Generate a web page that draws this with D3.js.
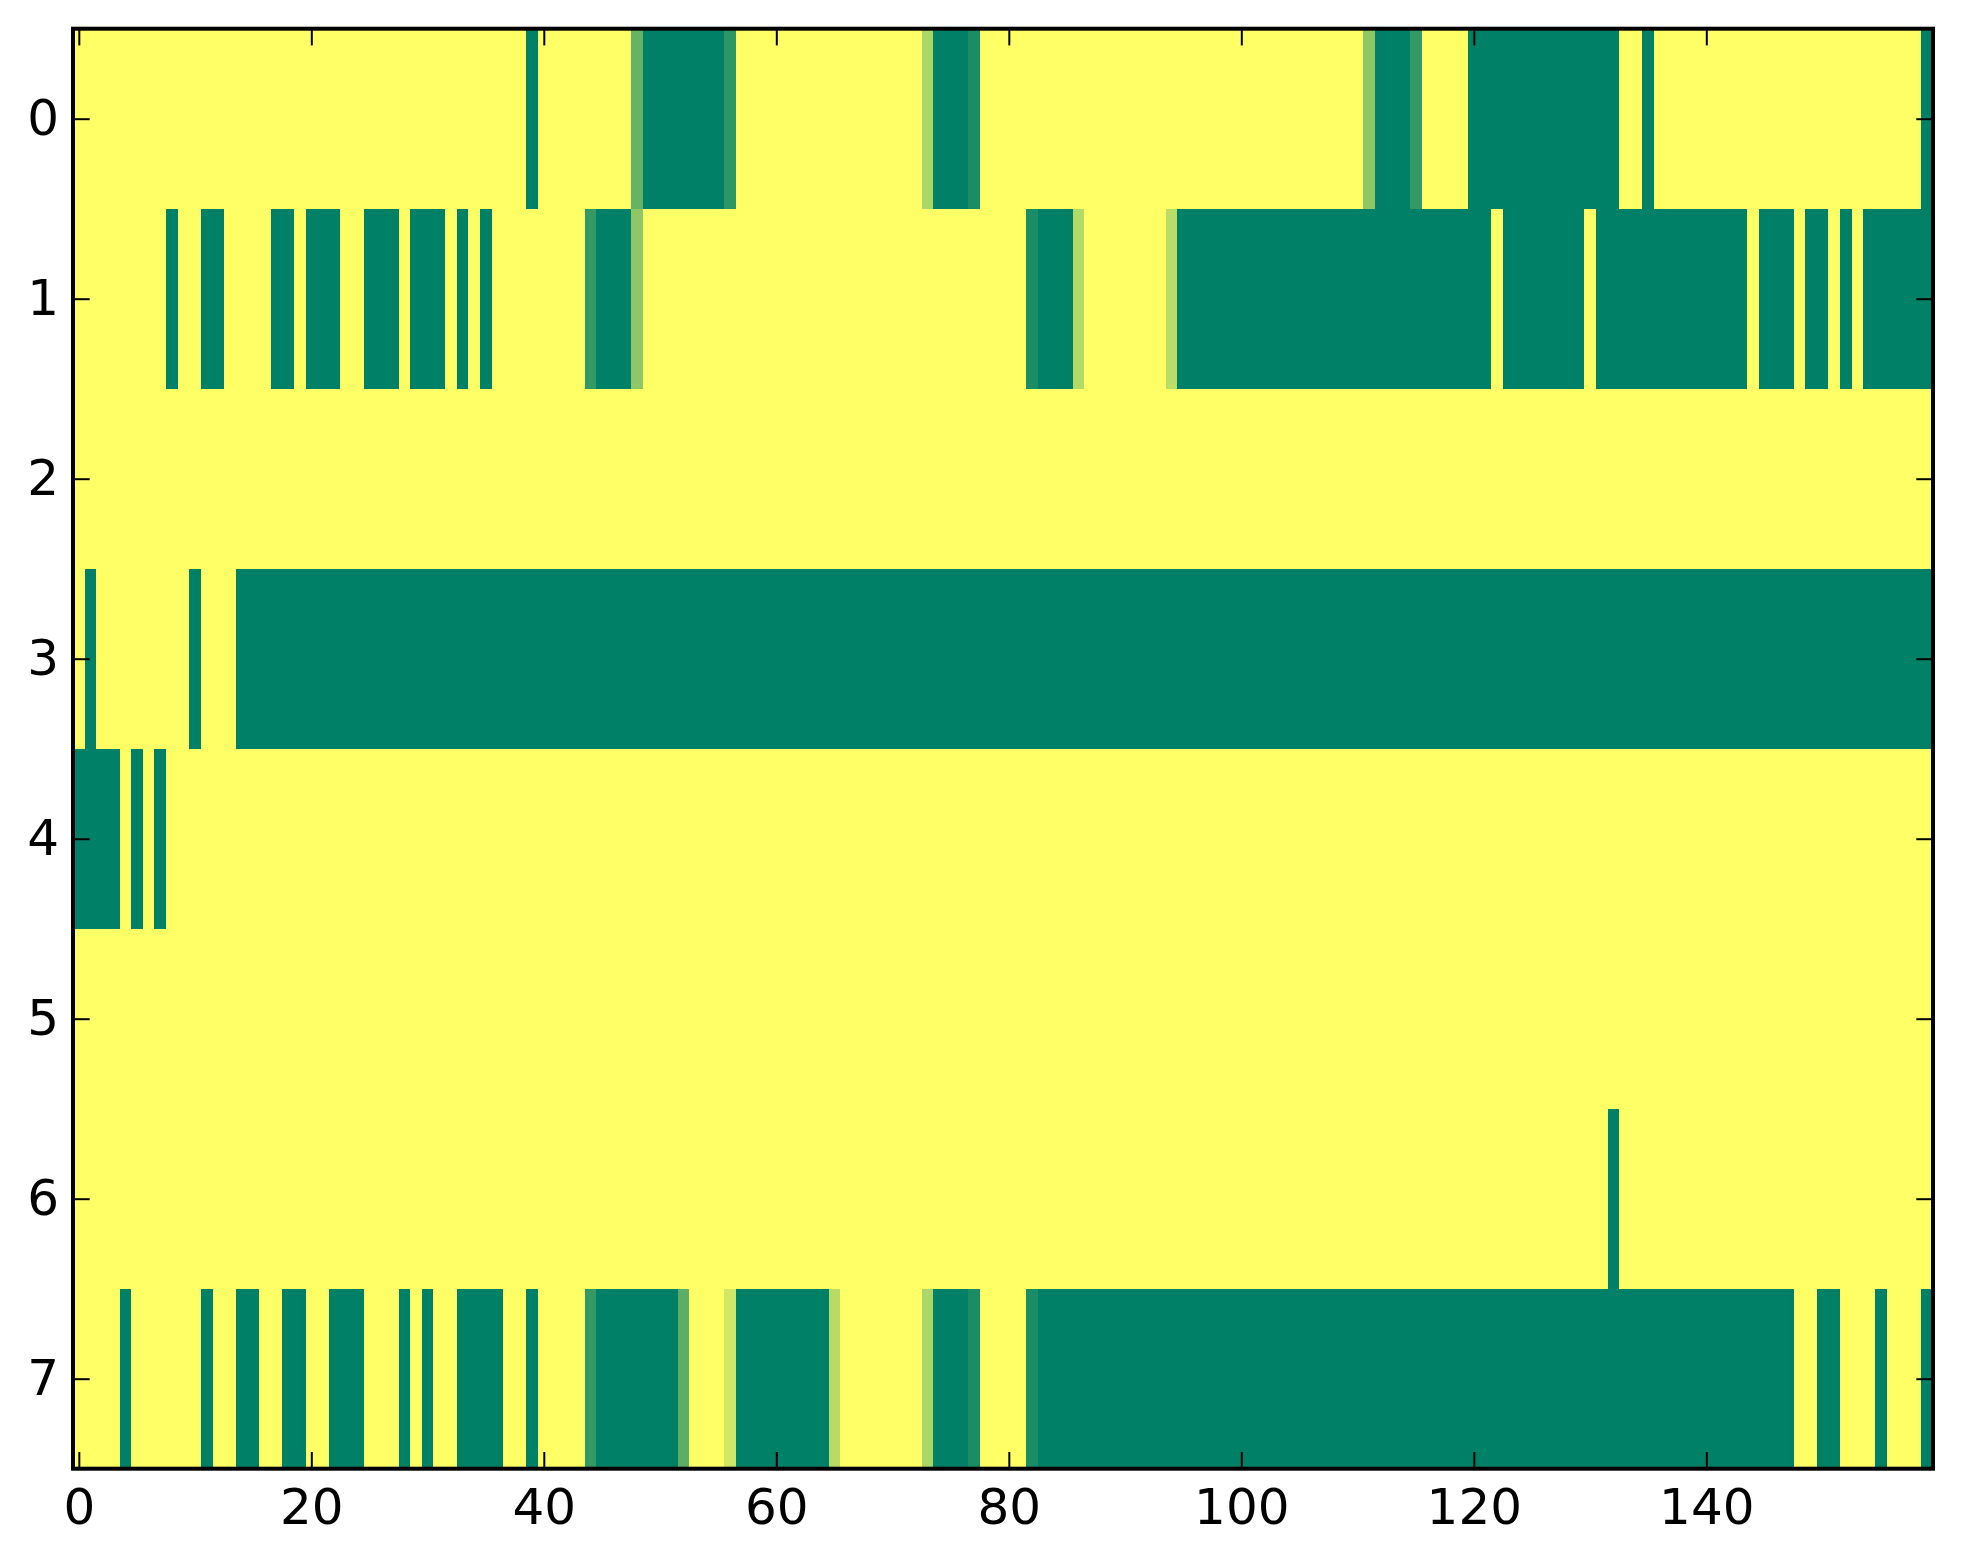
<html>
<head>
<meta charset="utf-8">
<script src="https://d3js.org/d3.v7.min.js"></script>
<style>
  body { margin: 0; background: #fff; }
  .tick text { font-family: "DejaVu Sans", sans-serif; font-size: 50px; fill: #000; }
  .tick line { stroke: #000; stroke-width: 2; }
  rect.cell { shape-rendering: crispEdges; }
</style>
</head>
<body>
<svg width="1963" height="1564"></svg>
<script>
// row labels (image rows, top to bottom)
var rowLabels = [0, 1, 2, 3, 4, 5, 6, 7];
var xTicks = [0, 20, 40, 60, 80, 100, 120, 140];

// cell values per row, 160 columns each (0 = green, 1 = yellow)
var row0 = [
  1,1,1,1,1,1,1,1,1,1,  1,1,1,1,1,1,1,1,1,1,
  1,1,1,1,1,1,1,1,1,1,  1,1,1,1,1,1,1,1,1,0,
  1,1,1,1,1,1,1,1,.4,0, 0,0,0,0,0,0,.17,1,1,1,
  1,1,1,1,1,1,1,1,1,1,  1,1,1,.68,0,0,0,.1,1,1,
  1,1,1,1,1,1,1,1,1,1,  1,1,1,1,1,1,1,1,1,1,
  1,1,1,1,1,1,1,1,1,1,  1,.56,0,0,0,.2,1,1,1,1,
  0,0,0,0,0,0,0,0,0,0,  0,0,0,1,1,0,1,1,1,1,
  1,1,1,1,1,1,1,1,1,1,  1,1,1,1,1,1,1,1,1,0
];
var row1 = [
  1,1,1,1,1,1,1,1,0,1,  1,0,0,1,1,1,1,0,0,1,
  0,0,0,1,1,0,0,0,1,0,  0,0,1,0,1,0,1,1,1,1,
  1,1,1,1,.2,0,0,0,.56,1, 1,1,1,1,1,1,1,1,1,1,
  1,1,1,1,1,1,1,1,1,1,  1,1,1,1,1,1,1,1,1,1,
  1,1,.1,0,0,0,.7,1,1,1, 1,1,1,1,.73,0,0,0,0,0,
  0,0,0,0,0,0,0,0,0,0,  0,0,0,0,0,0,0,0,0,0,
  0,0,1,0,0,0,0,0,0,0,  1,0,0,0,0,0,0,0,0,0,
  0,0,0,0,1,0,0,0,1,0,  0,1,0,1,0,0,0,0,0,0
];
var row2 = [
  1,1,1,1,1,1,1,1,1,1,  1,1,1,1,1,1,1,1,1,1,
  1,1,1,1,1,1,1,1,1,1,  1,1,1,1,1,1,1,1,1,1,
  1,1,1,1,1,1,1,1,1,1,  1,1,1,1,1,1,1,1,1,1,
  1,1,1,1,1,1,1,1,1,1,  1,1,1,1,1,1,1,1,1,1,
  1,1,1,1,1,1,1,1,1,1,  1,1,1,1,1,1,1,1,1,1,
  1,1,1,1,1,1,1,1,1,1,  1,1,1,1,1,1,1,1,1,1,
  1,1,1,1,1,1,1,1,1,1,  1,1,1,1,1,1,1,1,1,1,
  1,1,1,1,1,1,1,1,1,1,  1,1,1,1,1,1,1,1,1,1
];
var row3 = [
  1,0,1,1,1,1,1,1,1,1,  0,1,1,1,0,0,0,0,0,0,
  0,0,0,0,0,0,0,0,0,0,  0,0,0,0,0,0,0,0,0,0,
  0,0,0,0,0,0,0,0,0,0,  0,0,0,0,0,0,0,0,0,0,
  0,0,0,0,0,0,0,0,0,0,  0,0,0,0,0,0,0,0,0,0,
  0,0,0,0,0,0,0,0,0,0,  0,0,0,0,0,0,0,0,0,0,
  0,0,0,0,0,0,0,0,0,0,  0,0,0,0,0,0,0,0,0,0,
  0,0,0,0,0,0,0,0,0,0,  0,0,0,0,0,0,0,0,0,0,
  0,0,0,0,0,0,0,0,0,0,  0,0,0,0,0,0,0,0,0,0
];
var row4 = [
  0,0,0,0,1,0,1,0,1,1,  1,1,1,1,1,1,1,1,1,1,
  1,1,1,1,1,1,1,1,1,1,  1,1,1,1,1,1,1,1,1,1,
  1,1,1,1,1,1,1,1,1,1,  1,1,1,1,1,1,1,1,1,1,
  1,1,1,1,1,1,1,1,1,1,  1,1,1,1,1,1,1,1,1,1,
  1,1,1,1,1,1,1,1,1,1,  1,1,1,1,1,1,1,1,1,1,
  1,1,1,1,1,1,1,1,1,1,  1,1,1,1,1,1,1,1,1,1,
  1,1,1,1,1,1,1,1,1,1,  1,1,1,1,1,1,1,1,1,1,
  1,1,1,1,1,1,1,1,1,1,  1,1,1,1,1,1,1,1,1,1
];
var row5 = [
  1,1,1,1,1,1,1,1,1,1,  1,1,1,1,1,1,1,1,1,1,
  1,1,1,1,1,1,1,1,1,1,  1,1,1,1,1,1,1,1,1,1,
  1,1,1,1,1,1,1,1,1,1,  1,1,1,1,1,1,1,1,1,1,
  1,1,1,1,1,1,1,1,1,1,  1,1,1,1,1,1,1,1,1,1,
  1,1,1,1,1,1,1,1,1,1,  1,1,1,1,1,1,1,1,1,1,
  1,1,1,1,1,1,1,1,1,1,  1,1,1,1,1,1,1,1,1,1,
  1,1,1,1,1,1,1,1,1,1,  1,1,1,1,1,1,1,1,1,1,
  1,1,1,1,1,1,1,1,1,1,  1,1,1,1,1,1,1,1,1,1
];
var row6 = [
  1,1,1,1,1,1,1,1,1,1,  1,1,1,1,1,1,1,1,1,1,
  1,1,1,1,1,1,1,1,1,1,  1,1,1,1,1,1,1,1,1,1,
  1,1,1,1,1,1,1,1,1,1,  1,1,1,1,1,1,1,1,1,1,
  1,1,1,1,1,1,1,1,1,1,  1,1,1,1,1,1,1,1,1,1,
  1,1,1,1,1,1,1,1,1,1,  1,1,1,1,1,1,1,1,1,1,
  1,1,1,1,1,1,1,1,1,1,  1,1,1,1,1,1,1,1,1,1,
  1,1,1,1,1,1,1,1,1,1,  1,1,0,1,1,1,1,1,1,1,
  1,1,1,1,1,1,1,1,1,1,  1,1,1,1,1,1,1,1,1,1
];
var row7 = [
  1,1,1,1,0,1,1,1,1,1,  1,0,1,1,0,0,1,1,0,0,
  1,1,0,0,0,1,1,1,0,1,  0,1,1,0,0,0,0,1,1,0,
  1,1,1,1,.2,0,0,0,0,0, 0,0,.36,1,1,1,.82,0,0,0,
  0,0,0,0,0,.72,1,1,1,1, 1,1,1,.68,0,0,0,.1,1,1,
  1,1,.1,0,0,0,0,0,0,0,  0,0,0,0,0,0,0,0,0,0,
  0,0,0,0,0,0,0,0,0,0,  0,0,0,0,0,0,0,0,0,0,
  0,0,0,0,0,0,0,0,0,0,  0,0,0,0,0,0,0,0,0,0,
  0,0,0,0,0,0,0,0,1,1,  0,0,1,1,1,0,1,1,1,0
];
var rows = [row0, row1, row2, row3, row4, row5, row6, row7];

var plotLeft = 73, plotRight = 1933, plotTop = 28.7, plotBottom = 1468.7;

var svg = d3.select("svg");

var x = d3.scaleLinear().domain([-0.5, row0.length - 0.5]).range([plotLeft, plotRight]);
var y = d3.scaleLinear().domain([-0.5, rowLabels.length - 0.5]).range([plotTop, plotBottom]);

// "summer" colormap
var color = d3.scaleLinear().domain([0, 1]).range(["#008066", "#ffff66"]);

var cells = [];
rows.forEach(function(r, i) {
  r.forEach(function(v, j) { cells.push({ row: i, col: j, v: v }); });
});

svg.append("g")
  .selectAll("rect")
  .data(cells)
  .enter()
  .append("rect")
    .attr("class", "cell")
    .attr("x", function(d) { return x(d.col - 0.5); })
    .attr("y", function(d) { return y(d.row - 0.5); })
    .attr("width", function(d) { return x(d.col + 0.5) - x(d.col - 0.5); })
    .attr("height", function(d) { return y(d.row + 0.5) - y(d.row - 0.5); })
    .attr("fill", function(d) { return color(d.v); });

var tl = 16.7;

// bottom axis
var gb = svg.append("g")
  .attr("transform", "translate(0," + plotBottom + ")")
  .call(d3.axisBottom(x).tickValues(xTicks).tickSizeInner(-tl).tickSizeOuter(0).tickPadding(20));
// top axis
var gt = svg.append("g")
  .attr("transform", "translate(0," + plotTop + ")")
  .call(d3.axisTop(x).tickValues(xTicks).tickSizeInner(-tl).tickSizeOuter(0).tickFormat(""));
// left axis
var gl = svg.append("g")
  .attr("transform", "translate(" + plotLeft + ",0)")
  .call(d3.axisLeft(y).tickValues(rowLabels).tickSizeInner(-tl).tickSizeOuter(0).tickPadding(14));
// right axis
var gr = svg.append("g")
  .attr("transform", "translate(" + plotRight + ",0)")
  .call(d3.axisRight(y).tickValues(rowLabels).tickSizeInner(-tl).tickSizeOuter(0).tickFormat(""));

[gb, gt, gl, gr].forEach(function(g) { g.select(".domain").remove(); g.attr("font-size", null).attr("font-family", null); });

// frame
svg.append("rect")
  .attr("x", plotLeft)
  .attr("y", plotTop)
  .attr("width", plotRight - plotLeft)
  .attr("height", plotBottom - plotTop)
  .attr("fill", "none")
  .attr("stroke", "#000")
  .attr("stroke-width", 4);
</script>
</body>
</html>
